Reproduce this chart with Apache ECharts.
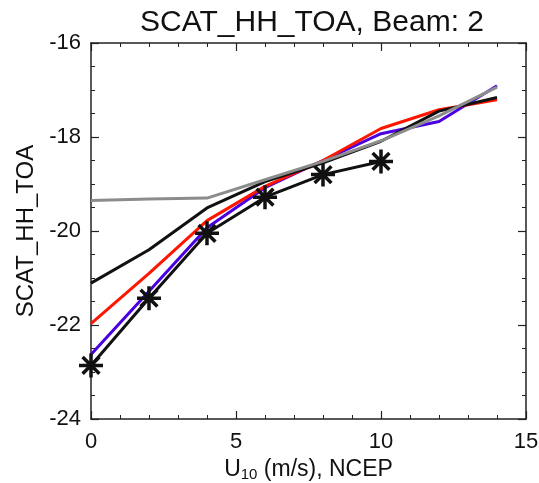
<!DOCTYPE html>
<html>
<head>
<meta charset="utf-8">
<script src="https://cdn.jsdelivr.net/npm/echarts@6/dist/echarts.min.js"></script>
<style>html,body{margin:0;padding:0;background:#fff;}#c{width:539px;height:483px;}</style>
</head>
<body>
<div id="c"></div>
<script>
const xFull = [0, 2, 4, 6, 8, 10, 12, 14];
const xStar = [0, 2, 4, 6, 8, 10];
const blackUpper = [-21.11, -20.40, -19.51, -18.95, -18.55, -18.09, -17.45, -17.16];
const redVals = [-21.97, -20.90, -19.78, -19.05, -18.50, -17.82, -17.42, -17.21];
const blueVals = [-22.63, -21.28, -19.93, -19.08, -18.50, -17.93, -17.67, -16.91];
const grayVals = [-19.35, -19.32, -19.30, -18.91, -18.52, -18.08, -17.55, -16.94];
const starVals = [-22.86, -21.43, -20.05, -19.28, -18.80, -18.52];
const xTicks = [0, 5, 10, 15];
const yTicks = [-24, -22, -20, -18, -16];

const pairs = (xs, ys) => xs.map((x, i) => [x, ys[i]]);
const font = 'Liberation Sans, Arial, Helvetica, sans-serif';
const asterisk = 'path://M0,-1L0,1M-1,0L1,0M-0.7,-0.7L0.7,0.7M-0.7,0.7L0.7,-0.7';

function mainAxis(extra) {
  return Object.assign({
    axisLine: {show: true, onZero: false, lineStyle: {color: '#222', width: 1.5}},
    axisTick: {show: true, inside: true, length: 8, lineStyle: {color: '#222', width: 1.2}},
    minorTick: {show: false},
    splitLine: {show: false}
  }, extra);
}
function minorAxis(extra) {
  return Object.assign({
    axisLine: {show: false, onZero: false},
    axisTick: {show: true, inside: true, length: 4, lineStyle: {color: '#222', width: 1}},
    axisLabel: {show: false},
    splitLine: {show: false}
  }, extra);
}

const chart = echarts.init(document.getElementById('c'), null, {renderer: 'canvas'});
chart.setOption({
  animation: false,
  backgroundColor: '#fff',
  title: {
    text: 'SCAT_HH_TOA, Beam: 2',
    left: 307, top: 3, textAlign: 'center',
    textStyle: {fontFamily: font, fontSize: 30, fontWeight: 'normal', color: '#111'}
  },
  grid: {left: 91, right: 13, top: 43, bottom: 64, outerBoundsMode: 'none', containLabel: false},
  xAxis: [
    mainAxis({
      type: 'value', min: 0, max: 15, interval: 5,
      axisLabel: {fontFamily: font, fontSize: 22, color: '#111', margin: 12,
        formatter: v => xTicks.includes(v) ? String(v) : ''},
      name: '{n|U}{s|10}{n| (m/s), NCEP}',
      nameLocation: 'middle', nameGap: 36,
      nameTextStyle: {rich: {
        n: {fontFamily: font, fontSize: 23, color: '#111'},
        s: {fontFamily: font, fontSize: 15, color: '#111', verticalAlign: 'bottom', padding: [10, 0, 0, 0]}
      }}
    }),
    mainAxis({type: 'value', min: 0, max: 15, interval: 5, position: 'top', axisLabel: {show: false}}),
    minorAxis({type: 'value', min: 0, max: 15, interval: 1, position: 'bottom'}),
    minorAxis({type: 'value', min: 0, max: 15, interval: 1, position: 'top'})
  ],
  yAxis: [
    mainAxis({
      type: 'value', min: -24, max: -16, interval: 2,
      axisLabel: {fontFamily: font, fontSize: 22, color: '#111', margin: 10,
        formatter: v => yTicks.includes(v) ? String(v) : ''},
      name: 'SCAT_HH_TOA', nameLocation: 'middle', nameGap: 52, nameRotate: 90,
      nameTextStyle: {fontFamily: font, fontSize: 24, color: '#111'}
    }),
    mainAxis({type: 'value', min: -24, max: -16, interval: 2, position: 'right', axisLabel: {show: false}}),
    minorAxis({type: 'value', min: -24, max: -16, interval: 0.5, position: 'left'}),
    minorAxis({type: 'value', min: -24, max: -16, interval: 0.5, position: 'right'})
  ],
  series: [
    {type: 'line', data: pairs(xFull, blueVals), showSymbol: false, lineStyle: {color: '#4a00e0', width: 3}, z: 2},
    {type: 'line', data: pairs(xFull, redVals), showSymbol: false, lineStyle: {color: '#ff1500', width: 3}, z: 3},
    {type: 'line', data: pairs(xFull, blackUpper), showSymbol: false, lineStyle: {color: '#111', width: 3}, z: 4},
    {type: 'line', data: pairs(xStar, starVals), symbol: asterisk, symbolSize: 24, showSymbol: true,
      itemStyle: {color: 'rgba(0,0,0,0)', borderColor: '#111', borderWidth: 3.5},
      lineStyle: {color: '#111', width: 3}, z: 5},
    {type: 'line', data: pairs(xFull, grayVals), showSymbol: false, lineStyle: {color: '#8c8c8c', width: 3}, z: 6}
  ]
});
</script>
</body>
</html>
